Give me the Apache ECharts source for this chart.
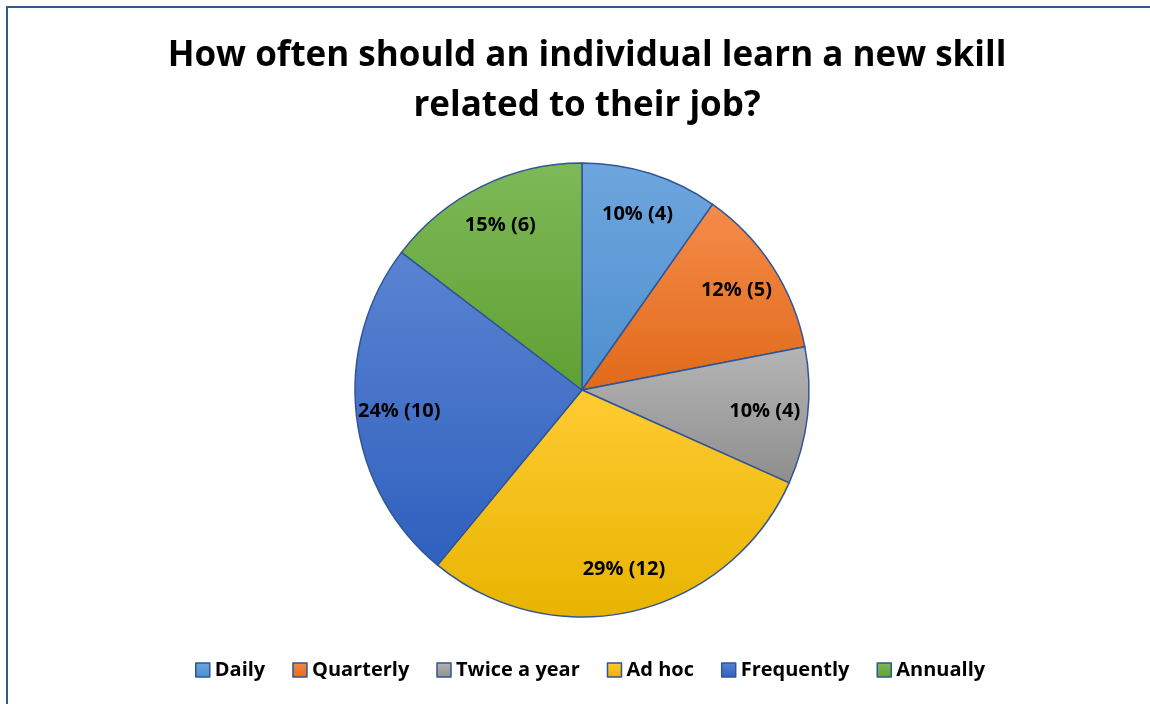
<!DOCTYPE html>
<html>
<head>
<meta charset="utf-8">
<script src="https://cdn.jsdelivr.net/npm/echarts@6/dist/echarts.min.js"></script>
<style>
  html, body { margin: 0; padding: 0; background: #ffffff; }
  #chart { width: 1150px; height: 704px; }
</style>
</head>
<body>
<div id="chart"></div>
<script>
// Survey answers: how often one should learn a new job-related skill
const categories = ['Daily', 'Quarterly', 'Twice a year', 'Ad hoc', 'Frequently', 'Annually'];
const counts = [4, 5, 4, 12, 10, 6];
// Slice fills: light top colour, darker bottom colour
const topColors = ['#6EA6DE', '#F58B4A', '#B5B5B5', '#FFCB33', '#5A84D2', '#7EB957'];
const bottomColors = ['#4E8FCE', '#E06A1A', '#8E8E8E', '#E8B400', '#2F60BE', '#5FA033'];
const baseColors = ['#5B9BD5', '#ED7D31', '#A5A5A5', '#FFC000', '#4472C4', '#70AD47'];

const FONT = '"Open Sans", Carlito, Calibri, sans-serif';
const total = counts.reduce((a, b) => a + b, 0);

const chart = echarts.init(document.getElementById('chart'), null, { renderer: 'canvas' });

const sliceData = categories.map((name, i) => ({
  name: name,
  value: counts[i],
  itemStyle: {
    color: new echarts.graphic.LinearGradient(0, 0, 0, 1, [
      { offset: 0, color: topColors[i] },
      { offset: 1, color: bottomColors[i] }
    ])
  }
}));

const labelData = categories.map((name, i) => ({ name: name, value: counts[i] }));

chart.setOption({
  backgroundColor: '#ffffff',
  animation: false,
  graphic: [{
    type: 'rect',
    silent: true,
    shape: { x: 7, y: 7, width: 1200, height: 760 },
    style: { fill: 'none', stroke: '#2E5C8C', lineWidth: 2 }
  }],
  title: {
    text: 'How often should an individual learn a new skill\nrelated to their job?',
    left: 582,
    textAlign: 'center',
    top: 26,
    textStyle: {
      fontFamily: FONT,
      fontSize: 35,
      fontWeight: 'bold',
      color: '#000000',
      lineHeight: 50
    }
  },
  legend: {
    data: categories,
    left: 190,
    top: 655,
    icon: 'rect',
    itemWidth: 14,
    itemHeight: 14,
    itemGap: 27,
    itemStyle: { borderColor: '#2F5597', borderWidth: 1.5 },
    textStyle: {
      fontFamily: FONT,
      fontSize: 20,
      fontWeight: 'bold',
      color: '#000000'
    }
  },
  series: [{
    type: 'pie',
    name: 'Answers',
    center: [582, 390],
    radius: [0, 227],
    startAngle: 90,
    clockwise: true,
    silent: true,
    label: { show: false },
    labelLine: { show: false },
    itemStyle: {
      borderColor: '#2F5597',
      borderWidth: 1.5
    },
    color: baseColors,
    data: sliceData
  }, {
    // transparent copy that only carries the value labels further out
    type: 'pie',
    name: 'Labels',
    center: [582, 390],
    radius: [0, 362],
    startAngle: 90,
    clockwise: true,
    silent: true,
    itemStyle: { color: 'rgba(0,0,0,0)', borderWidth: 0 },
    labelLine: { show: false },
    label: {
      show: true,
      position: 'inside',
      fontFamily: FONT,
      fontSize: 20,
      fontWeight: 'bold',
      color: '#000000',
      formatter: p => Math.round(p.value / total * 100) + '% (' + p.value + ')'
    },
    data: labelData
  }]
});
</script>
</body>
</html>
